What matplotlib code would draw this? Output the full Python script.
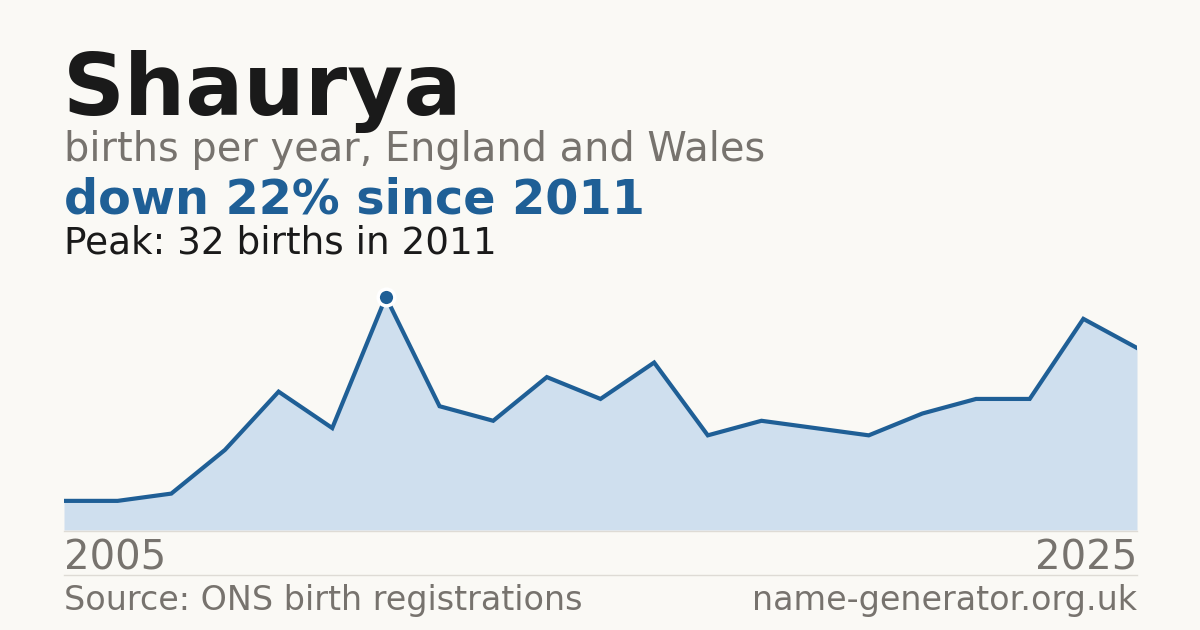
import matplotlib.pyplot as plt
import numpy as np

years = list(range(2005, 2026))
births = [4, 4, 5, 11, 19, 14, 32, 17, 15, 21, 18, 23, 13, 15, 14, 13, 16, 18, 18, 29, 25]

name = "Shaurya"
subtitle = "births per year, England and Wales"
headline = "down 22% since 2011"
peak_note = "Peak: 32 births in 2011"
source = "Source: ONS birth registrations"
site = "name-generator.org.uk"

bg = "#faf9f5"
blue = "#1f5f96"
fill = "#cfdfee"
grey = "#77736e"

W, H = 1200, 630
fig = plt.figure(figsize=(W / 100, H / 100), dpi=100, facecolor=bg)

def px(x, y):
    # pixel coords (top-left origin) -> figure fraction
    return x / W, 1 - y / H

left, right, top, bottom = 64, 1137, 297, 530
ax = fig.add_axes([left / W, 1 - bottom / H, (right - left) / W, (bottom - top) / H])
ax.set_facecolor(bg)
ax.fill_between(years, births, 0, color=fill, lw=0)
ax.plot(years, births, color=blue, lw=3.0, solid_joinstyle="miter")
peak_i = int(np.argmax(births))
ax.plot(years[peak_i], births[peak_i], "o", ms=12, color=blue, mec="white", mew=2.5, clip_on=False, zorder=5)
ax.set_xlim(years[0], years[-1])
ax.set_ylim(0, max(births))
ax.axis("off")

# base line and separator
fig.add_artist(plt.Line2D([left / W, right / W], [1 - 530.5 / H] * 2, color="#dedbd5", lw=1))
fig.add_artist(plt.Line2D([left / W, right / W], [1 - 574.5 / H] * 2, color="#dedbd5", lw=1))

fig.text(*px(63, 115), name, fontsize=62, fontweight="bold", color="#1a1a1a", va="baseline")
fig.text(*px(64, 161), subtitle, fontsize=28.7, color=grey, va="baseline")
fig.text(*px(64, 214), headline, fontsize=34.4, fontweight="bold", color=blue, va="baseline")
fig.text(*px(64, 254), peak_note, fontsize=26.9, color="#1a1a1a", va="baseline")

fig.text(*px(64, 570), str(years[0]), fontsize=28.9, color=grey, va="baseline")
fig.text(*px(1137, 570), str(years[-1]), fontsize=28.9, color=grey, va="baseline", ha="right")
fig.text(*px(64, 610), source, fontsize=24, color=grey, va="baseline")
fig.text(*px(1137, 610), site, fontsize=24, color=grey, va="baseline", ha="right")

fig.savefig("out.png", dpi=100, facecolor=bg)
